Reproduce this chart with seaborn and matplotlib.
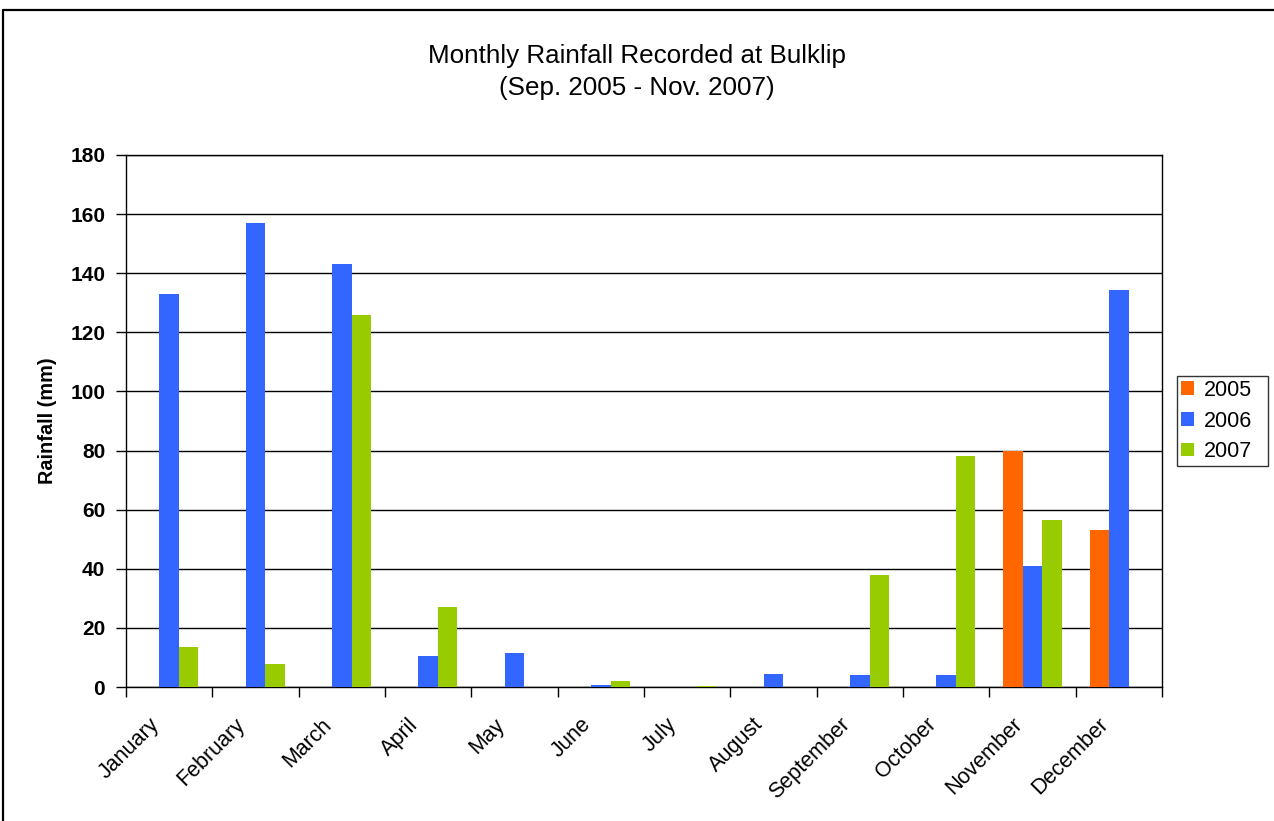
import matplotlib
matplotlib.use("Agg")
import matplotlib.pyplot as plt
from matplotlib.lines import Line2D
import numpy as np
import pandas as pd
import seaborn as sns

months = ["January", "February", "March", "April", "May", "June",
          "July", "August", "September", "October", "November", "December"]
years = ["2005", "2006", "2007"]
rain_2005 = [np.nan, np.nan, np.nan, np.nan, np.nan, np.nan,
             np.nan, np.nan, 0, 0, 80, 53]
rain_2006 = [133, 157, 143, 10.5, 11.5, 0.7, 0, 4.4, 3.9, 4.2, 41, 134.3]
rain_2007 = [13.5, 7.8, 125.8, 27, 0, 2, 0.5, 0, 38, 78, 56.5, np.nan]
colors = ["#FF6600", "#3366FF", "#99CC00"]
y_ticks = [0, 20, 40, 60, 80, 100, 120, 140, 160, 180]

df = pd.DataFrame({
    "Month": months * 3,
    "Year": [y for y in years for _ in months],
    "Rainfall": rain_2005 + rain_2006 + rain_2007,
})

sns.set_theme(style="white")
plt.rcParams["font.family"] = ["Liberation Sans", "DejaVu Sans"]
plt.rcParams["text.color"] = "black"
plt.rcParams["xtick.color"] = "black"
plt.rcParams["ytick.color"] = "black"
plt.rcParams["axes.labelcolor"] = "black"

fig = plt.figure(figsize=(12.74, 8.21), dpi=100)
ax = fig.add_axes([126 / 1274, 1 - 687 / 821, (1162 - 126) / 1274, (687 - 155) / 821])

sns.barplot(data=df, x="Month", y="Rainfall", hue="Year", order=months,
            hue_order=years, palette=colors, width=0.675, dodge=True,
            saturation=1, errorbar=None, linewidth=0, ax=ax, zorder=3)

ax.set_xlim(-0.5, 11.5)
ax.set_ylim(0, 180)
ax.set_yticks(y_ticks)
ax.set_yticklabels([str(v) for v in y_ticks], fontsize=15, fontweight="bold")
ax.yaxis.grid(True, color="black", linewidth=1.0, zorder=0)
ax.set_axisbelow(True)

# month ticks sit between the groups; slanted names end just left of each group centre
ax.set_xticks(np.arange(-0.5, 12, 1.0))
ax.set_xticklabels([])
ax.set_xticks(np.arange(12) - 0.24, minor=True)
ax.set_xticklabels(months, minor=True, rotation=45, ha="right",
                   rotation_mode="anchor", fontsize=15.5)
ax.tick_params(axis="x", which="major", direction="out", length=7,
               width=1, color="black", bottom=True)
ax.tick_params(axis="x", which="minor", length=0, pad=19.5)
ax.tick_params(axis="y", direction="out", length=7, width=1,
               color="black", left=True, pad=8)

for s in ax.spines.values():
    s.set_color("black")
    s.set_linewidth(1.0)

ax.set_xlabel("")
ax.set_ylabel("Rainfall (mm)", fontsize=14.3, fontweight="bold")
ax.yaxis.set_label_coords(-(126 - 57) / 1036, 0.5)

leg = ax.legend(title=None, loc="center", mode="expand",
                bbox_to_anchor=((1177 - 126) / 1036, 0.0, 91 / 1036, 1.0),
                fontsize=15.5, frameon=True, fancybox=False, edgecolor="black",
                handlelength=0.6, handleheight=0.6, handletextpad=0.45,
                labelspacing=0.45, borderpad=0.2, borderaxespad=0)
leg.get_frame().set_linewidth(1.0)

fig.text(0.5, 1 - 56 / 821, "Monthly Rainfall Recorded at Bulklip",
         ha="center", va="center", fontsize=18.7)
fig.text(0.5, 1 - 88 / 821, "(Sep. 2005 - Nov. 2007)",
         ha="center", va="center", fontsize=18.7)

# chart frame along the top and left edges
fig.add_artist(Line2D([3 / 1274, 1], [1 - 10 / 821, 1 - 10 / 821],
                      color="black", linewidth=1.6, transform=fig.transFigure))
fig.add_artist(Line2D([3 / 1274, 3 / 1274], [0, 1 - 10 / 821],
                      color="black", linewidth=1.6, transform=fig.transFigure))

fig.savefig("out.png", dpi=100, facecolor="white")
